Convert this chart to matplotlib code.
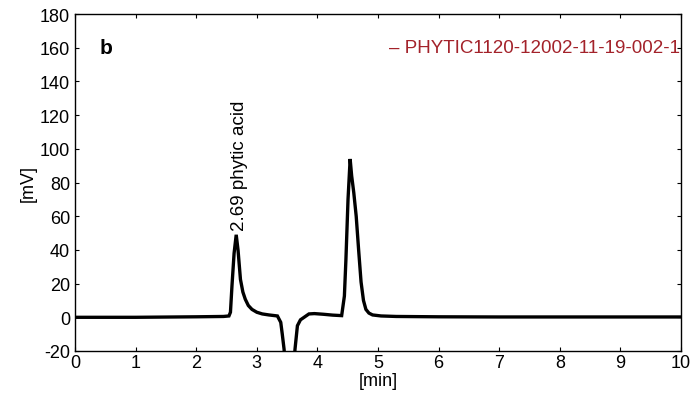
import matplotlib
matplotlib.use("Agg")
from matplotlib import pyplot as plt

plt.rcParams["font.family"] = ["Liberation Sans", "DejaVu Sans"]
plt.rcParams["axes.unicode_minus"] = False

# trace
time_min = [0, 1, 2, 2.45, 2.54, 2.565, 2.59, 2.625, 2.66, 2.69, 2.73, 2.77, 2.81,
            2.86, 2.92, 3.00, 3.09, 3.20, 3.34, 3.395, 3.42, 3.45, 3.47, 3.61, 3.63,
            3.67, 3.72, 3.78, 3.86, 3.95, 4.10, 4.25, 4.40, 4.445, 4.47, 4.505, 4.54,
            4.565, 4.60, 4.64, 4.68, 4.72, 4.76, 4.80, 4.85, 4.91, 5.05, 5.30, 6, 7, 8,
            9, 10]
signal_mv = [0, 0, 0.3, 0.5, 0.8, 3, 18.6, 38, 49, 40, 22.5, 15, 10.7,
             7, 4.7, 3, 2, 1.4, 0.8, -3, -10, -19, -30, -30, -19,
             -5, -1.5, 0, 2, 2.2, 1.8, 1.3, 1, 12.6, 34, 70, 94,
             84, 74, 60, 40, 21, 10, 4.7, 2.5, 1.4, 0.8, 0.5, 0.3, 0.2, 0.2,
             0.2, 0.2]

x_ticks = list(range(0, 11))
y_ticks = list(range(-20, 181, 20))

peak_time = 2.69
peak_label = "2.69 phytic acid"
trace_name = "– PHYTIC1120-12002-11-19-002-1"

fig = plt.figure(figsize=(6.99, 4.02), dpi=100)
ax = fig.add_axes([0.1073, 0.1244, 0.867, 0.838])

ax.plot(time_min, signal_mv, color="black", linewidth=2.4, solid_joinstyle="miter")

ax.set_xlim(0, 10)
ax.set_ylim(-20, 180)
ax.set_xticks(x_ticks)
ax.set_yticks(y_ticks)
ax.tick_params(direction="in", length=3, labelsize=13, top=True, right=True)
ax.tick_params(axis="x", pad=2)
for s in ax.spines.values():
    s.set_linewidth(1.0)

ax.set_xlabel("[min]", fontsize=13, labelpad=1)
ax.set_ylabel("[mV]", fontsize=13, labelpad=2)

ax.text(peak_time + 0.02, 52, peak_label, rotation=90, ha="center", va="bottom",
        fontsize=13.5)
ax.text(0.04, 0.9, "b", transform=ax.transAxes, fontsize=15, fontweight="bold",
        ha="left", va="center")
ax.text(0.998, 0.9, trace_name, transform=ax.transAxes, fontsize=13.5,
        color="#a3222a", ha="right", va="center")

fig.savefig("out.png", dpi=100)
